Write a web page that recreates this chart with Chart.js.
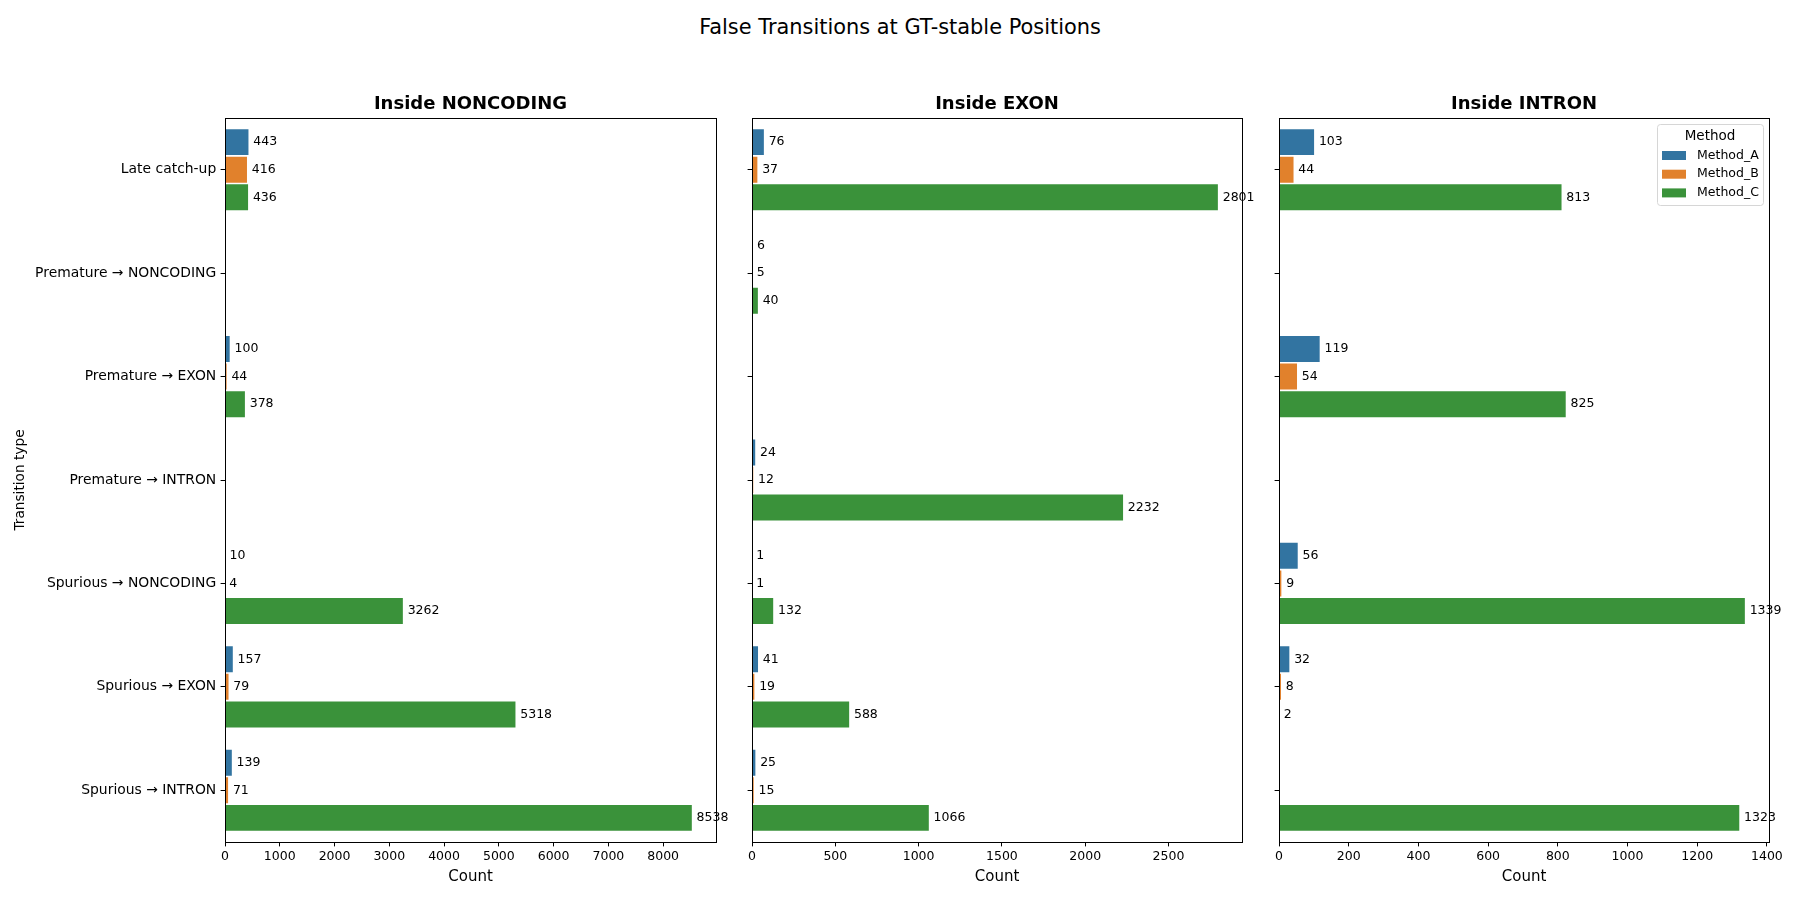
<!DOCTYPE html>
<html>
<head>
<meta charset="utf-8">
<script src="https://cdn.jsdelivr.net/npm/chart.js@4.4.0/dist/chart.umd.min.js"></script>
<style>
  body { margin: 0; background: #fff; }
  #wrap { position: relative; width: 1800px; height: 900px; overflow: hidden; }
  #wrap canvas { position: absolute; top: 0; }
  #suptitle { position: absolute; left: 0; top: 15px; width: 1800px; text-align: center;
    font: 20.9px "DejaVu Sans"; line-height: 25px; color: #000; }
</style>
</head>
<body>
<div id="wrap">
  <div id="suptitle">False Transitions at GT-stable Positions</div>
  <canvas id="c1" width="740" height="900" style="left:0px"></canvas>
  <canvas id="c2" width="520" height="900" style="left:740px"></canvas>
  <canvas id="c3" width="540" height="900" style="left:1260px"></canvas>
</div>
<script>
const categories = ["Late catch-up", "Premature → NONCODING", "Premature → EXON", "Premature → INTRON",
                    "Spurious → NONCODING", "Spurious → EXON", "Spurious → INTRON"];
const methods = ["Method_A", "Method_B", "Method_C"];
const colors = ["#3274a1", "#e1812c", "#3a923a"];

// counts per panel, one array per method (null = no bar)
const noncodingA = [443, null, 100, null, 10, 157, 139];
const noncodingB = [416, null, 44, null, 4, 79, 71];
const noncodingC = [436, null, 378, null, 3262, 5318, 8538];

const exonA = [76, 6, null, 24, 1, 41, 25];
const exonB = [37, 5, null, 12, 1, 19, 15];
const exonC = [2801, 40, null, 2232, 132, 588, 1066];

const intronA = [103, null, 119, null, 56, 32, null];
const intronB = [44, null, 54, null, 9, 8, null];
const intronC = [813, null, 825, null, 1339, 2, 1323];

const ticksNoncoding = [0, 1000, 2000, 3000, 4000, 5000, 6000, 7000, 8000];
const ticksExon = [0, 500, 1000, 1500, 2000, 2500];
const ticksIntron = [0, 200, 400, 600, 800, 1000, 1200, 1400];

const FONT = '"DejaVu Sans", sans-serif';

// frame, panel title, value labels and legend
const panelDeco = {
  id: "panelDeco",
  afterDatasetsDraw(chart, args, opts) {
    const ctx = chart.ctx;
    ctx.save();
    ctx.font = "12.5px " + FONT;
    ctx.fillStyle = "#000";
    ctx.textBaseline = "middle";
    ctx.textAlign = "left";
    chart.data.datasets.forEach((ds, i) => {
      chart.getDatasetMeta(i).data.forEach((bar, j) => {
        const v = ds.data[j];
        if (v == null) return;
        ctx.fillText(String(v), bar.x + 4, bar.y);
      });
    });
    ctx.restore();
  },
  afterDraw(chart, args, opts) {
    const ctx = chart.ctx;
    const a = chart.chartArea;
    ctx.save();
    ctx.strokeStyle = "#000";
    ctx.lineWidth = 1;
    ctx.strokeRect(Math.round(a.left) + 0.5, Math.round(a.top) + 0.5,
                   Math.round(a.right - a.left), Math.round(a.bottom - a.top));
    ctx.font = "bold 18px " + FONT;
    ctx.fillStyle = "#000";
    ctx.textAlign = "center";
    ctx.textBaseline = "middle";
    ctx.fillText(opts.title, (a.left + a.right) / 2, a.top - 14);

    if (opts.legend) {
      const w = 106, h = 81;
      const x0 = a.right - 6 - w, y0 = a.top + 6;
      ctx.fillStyle = "rgba(255,255,255,0.8)";
      ctx.strokeStyle = "#d6d6d6";
      ctx.beginPath();
      ctx.roundRect(x0 + 0.5, y0 + 0.5, w, h, 3);
      ctx.fill();
      ctx.stroke();
      ctx.fillStyle = "#000";
      ctx.font = "13.5px " + FONT;
      ctx.fillText("Method", x0 + w / 2, y0 + 12);
      ctx.font = "12.5px " + FONT;
      ctx.textAlign = "left";
      chart.data.datasets.forEach((ds, i) => {
        const cy = y0 + 31.5 + i * 18.7;
        ctx.fillStyle = ds.backgroundColor;
        ctx.fillRect(x0 + 5, cy - 4.5, 24, 9);
        ctx.fillStyle = "#000";
        ctx.fillText(ds.label, x0 + 40, cy);
      });
    }
    ctx.restore();
  }
};

function makePanel(id, values, xmax, tickValues, title, yWidth, padRight, opts) {
  const ctx = document.getElementById(id).getContext("2d");
  new Chart(ctx, {
    type: "bar",
    data: {
      labels: categories,
      datasets: methods.map((m, i) => ({
        label: m,
        data: values[i],
        backgroundColor: colors[i],
        borderColor: "rgba(255,255,255,0.85)",
        borderWidth: 0.8,
        categoryPercentage: 0.8,
        barPercentage: 1.0
      }))
    },
    options: {
      indexAxis: "y",
      responsive: false,
      animation: false,
      events: [],
      layout: { padding: { top: 118, right: padRight, bottom: 0, left: 0 } },
      plugins: {
        legend: { display: false },
        tooltip: { enabled: false },
        panelDeco: { title: title, legend: opts.legend }
      },
      scales: {
        x: {
          type: "linear",
          min: 0,
          max: xmax,
          grid: { drawOnChartArea: false, drawTicks: true, tickLength: 4.4, color: "#000", lineWidth: 1 },
          border: { display: false },
          ticks: { color: "#000", padding: 3, font: { family: FONT, size: 12.5 },
                   callback: v => String(v) },
          title: { display: true, text: "Count", color: "#000",
                   font: { family: FONT, size: 15 }, padding: { top: 0, bottom: 14 } },
          afterBuildTicks: s => { s.ticks = tickValues.map(v => ({ value: v })); },
          afterFit: s => { s.height = 58; }
        },
        y: {
          type: "category",
          offset: true,
          grid: { offset: false, drawOnChartArea: false, drawTicks: true, tickLength: 4.4, color: "#000", lineWidth: 1 },
          border: { display: false },
          ticks: {
            color: "#000", padding: 4.4, autoSkip: false,
            font: { family: FONT, size: 13.9 },
            callback: function (v) { return opts.yLabels ? this.getLabelForValue(v) : ""; }
          },
          title: { display: opts.yLabels, text: "Transition type", color: "#000",
                   font: { family: FONT, size: 13.7 },
                   padding: { top: 12.5, bottom: 0 } },
          afterFit: s => { s.width = yWidth; }
        }
      }
    },
    plugins: [panelDeco]
  });
}

makePanel("c1", [noncodingA, noncodingB, noncodingC], 8965, ticksNoncoding, "Inside NONCODING", 225, 24, { yLabels: true, legend: false });
makePanel("c2", [exonA, exonB, exonC], 2941, ticksExon, "Inside EXON", 12, 18, { yLabels: false, legend: false });
makePanel("c3", [intronA, intronB, intronC], 1406, ticksIntron, "Inside INTRON", 19, 31, { yLabels: false, legend: true });
</script>
</body>
</html>
